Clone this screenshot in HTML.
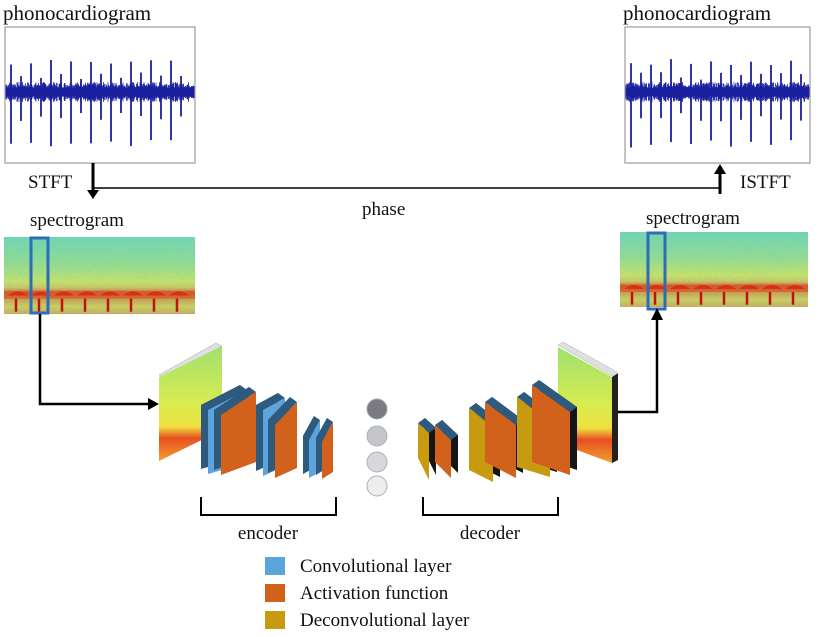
<!DOCTYPE html>
<html><head><meta charset="utf-8"><style>
body{margin:0;background:#fff;width:820px;height:637px;overflow:hidden}
svg{display:block}
text{font-family:"Liberation Serif",serif;fill:#111}
</style></head><body>
<svg id="s" width="820" height="637" viewBox="0 0 820 637" xmlns="http://www.w3.org/2000/svg">
<defs>
<linearGradient id="sg" x1="0" y1="0" x2="0" y2="1">
<stop offset="0" stop-color="#7ad8a0"/><stop offset="0.35" stop-color="#a8e070"/>
<stop offset="0.58" stop-color="#e8e840"/><stop offset="0.66" stop-color="#f2c030"/>
<stop offset="0.72" stop-color="#e85018"/><stop offset="0.8" stop-color="#f08a20"/>
<stop offset="0.9" stop-color="#f0d030"/><stop offset="1" stop-color="#f0a030"/>
</linearGradient>
<linearGradient id="sg2" x1="0" y1="0" x2="0" y2="1">
<stop offset="0" stop-color="#a0e070"/><stop offset="0.5" stop-color="#d8ec50"/>
<stop offset="0.7" stop-color="#f0e040"/><stop offset="0.8" stop-color="#e85020"/>
<stop offset="1" stop-color="#f0a030"/>
</linearGradient>
<filter id="nz"><feTurbulence baseFrequency="0.9" numOctaves="1" seed="3"/><feColorMatrix values="0 0 0 0 0.1  0 0 0 0 0.6  0 0 0 0 0.8  0 0 0 -2.2 1.1"/><feComposite in2="SourceGraphic" operator="in"/></filter>
</defs>

<text x="3" y="20" font-size="21">phonocardiogram</text>
<text x="623" y="20" font-size="21">phonocardiogram</text>
<rect x="5" y="27" width="190" height="136" fill="#fff" stroke="#888" stroke-width="1"/>
<rect x="625" y="27" width="185" height="136" fill="#fff" stroke="#888" stroke-width="1"/>
<g id="pcg1"></g><g id="pcg2"></g>

<text x="28" y="188" font-size="19">STFT</text>
<text x="740" y="188" font-size="19">ISTFT</text>
<text x="362" y="215" font-size="19">phase</text>
<line x1="93" y1="163" x2="93" y2="192" stroke="#000" stroke-width="3"/>
<polygon points="87,190 99,190 93,199" fill="#000"/>
<line x1="93" y1="188" x2="720" y2="188" stroke="#000" stroke-width="1.5"/>
<line x1="720" y1="194" x2="720" y2="172" stroke="#000" stroke-width="3"/>
<polygon points="714,174 726,174 720,164" fill="#000"/>

<text x="30" y="226" font-size="19">spectrogram</text>
<text x="646" y="224" font-size="19">spectrogram</text>
<rect x="4" y="237" width="191" height="77" fill="url(#sg)"/>
<rect x="4" y="237" width="191" height="77" fill="#fff" filter="url(#nz)" opacity="0.4"/>
<rect x="620" y="232" width="188" height="75" fill="url(#sg)"/>
<rect x="620" y="232" width="188" height="75" fill="#fff" filter="url(#nz)" opacity="0.4"/>
<g id="spk"></g>
<rect x="31" y="238" width="17" height="75" fill="none" stroke="#2f6cb8" stroke-width="3"/>
<rect x="648" y="233" width="17" height="76" fill="none" stroke="#2f6cb8" stroke-width="3"/>

<polyline points="40,314 40,404 150,404" fill="none" stroke="#000" stroke-width="2.5"/>
<polygon points="148,398 148,410 159,404" fill="#000"/>
<polyline points="617,412 657,412 657,318" fill="none" stroke="#000" stroke-width="2.5"/>
<polygon points="651,320 663,320 657,308" fill="#000"/>

<polygon points="159,375 216,343 222,346 165,378" fill="#e0e0e0" stroke="#aaa" stroke-width="0.5"/>
<polygon points="159,377 222,346 222,430 159,461" fill="url(#sg2)"/>
<polygon points="558,345 563,342 617,372 612,376" fill="#e0e0e0" stroke="#aaa" stroke-width="0.5"/>
<polygon points="612,377 618,373 618,460 612,463" fill="#222"/>
<polygon points="558,347 612,377 612,463 558,443" fill="url(#sg2)"/>

<g id="blocks"></g>

<circle cx="377" cy="409" r="10" fill="#7a7a80" stroke="#9aa" stroke-width="1"/>
<circle cx="377" cy="436" r="10" fill="#c6c6c8" stroke="#a8b0c0" stroke-width="1"/>
<circle cx="377" cy="462" r="10" fill="#d8d8da" stroke="#a8b0c0" stroke-width="1"/>
<circle cx="377" cy="486" r="10" fill="#ededee" stroke="#a8b0c0" stroke-width="1"/>

<polyline points="201,497 201,515 336,515 336,497" fill="none" stroke="#000" stroke-width="2"/>
<polyline points="423,497 423,515 558,515 558,497" fill="none" stroke="#000" stroke-width="2"/>
<text x="268" y="539" font-size="19" text-anchor="middle">encoder</text>
<text x="490" y="539" font-size="19" text-anchor="middle">decoder</text>

<rect x="265" y="557" width="20" height="18" fill="#5ba4dc"/>
<rect x="265" y="584" width="20" height="18" fill="#d2611c"/>
<rect x="265" y="611" width="20" height="18" fill="#c89a10"/>
<text x="300" y="572" font-size="19">Convolutional layer</text>
<text x="300" y="599" font-size="19">Activation function</text>
<text x="300" y="626" font-size="19">Deconvolutional layer</text>
</svg>
<script>
var NS="http://www.w3.org/2000/svg";
function el(p,t,a){var e=document.createElementNS(NS,t);for(var k in a)e.setAttribute(k,a[k]);p.appendChild(e);return e;}
var seed=7;function rnd(){seed=(seed*9301+49297)%233280;return seed/233280;}
function pcg(g,x0,x1){
  var d="";
  for(var x=x0;x<=x1;x+=0.5){var a=(4+rnd()*6);d+="M"+x.toFixed(1)+","+(92-a).toFixed(1)+" L"+x.toFixed(1)+","+(92+a).toFixed(1)+" ";}
  el(g,"path",{d:d,stroke:"#1a1f9e","stroke-width":"0.8",fill:"none"});
  var i=0;for(var x=x0+5;x<x1-3;x+=10,i++){
    var tall=i%2==0;var t=tall?58+rnd()*8:72+rnd()*8;var b=tall?140+rnd()*8:112+rnd()*10;
    el(g,"line",{x1:x,y1:t,x2:x,y2:b,stroke:"#1a1f9e","stroke-width":"1.8"});
  }
}
pcg(document.getElementById("pcg1"),6,194);
pcg(document.getElementById("pcg2"),626,809);
var spk=document.getElementById("spk");
[[4,195,237,77],[620,808,232,75]].forEach(function(r){
  el(spk,"rect",{x:r[0],y:r[2]+r[3]*0.7,width:r[1]-r[0],height:r[3]*0.1,fill:"#e04818",opacity:"0.6"});
  for(var x=r[0]+10;x<r[1]-12;x+=23){
    el(spk,"path",{d:"M"+(x-6)+","+(r[2]+r[3]*0.76)+" q10,-8 20,0 z",fill:"#d83010"});
    el(spk,"line",{x1:x+2,y1:r[2]+r[3]*0.8,x2:x+2,y2:r[2]+r[3]*0.97,stroke:"#c01010","stroke-width":"2.5"});
  }
});
var B=document.getElementById("blocks");
function slab(xl,xr,tl,tr,bl,br,col,dx,dy){
  var dk=dx<0?"#2e5a7e":"#151515";
  var pts=function(o,p){return (xl+o)+","+(tl+p)+" "+(xr+o)+","+(tr+p)+" "+(xr+o)+","+(br+p)+" "+(xl+o)+","+(bl+p);};
  el(B,"polygon",{points:pts(dx,dy),fill:dk});
  el(B,"polygon",{points:(xl+dx)+","+(tl+dy)+" "+(xr+dx)+","+(tr+dy)+" "+xr+","+tr+" "+xl+","+tl,fill:"#2e5a7e"});
  el(B,"polygon",{points:pts(0,0),fill:col});
}
var BL="#5ba4dc",OR="#d2611c",YE="#c89a10";
slab(208,247,410,390,474,463,BL,-7,-5);
slab(221,256,415,392,475,462,OR,-7,-5);
slab(263,285,410,398,476,466,BL,-7,-5);
slab(275,297,425,402,478,468,OR,-7,-5);
slab(309,320,440,420,478,472,BL,-6,-4);
slab(322,333,442,422,479,472,OR,-6,-4);
slab(418,429,423,433,458,480,YE,7,-5);
slab(435,451,425,440,462,478,OR,7,-5);
slab(469,493,408,427,470,482,YE,7,-5);
slab(485,516,402,425,462,478,OR,7,-5);
slab(517,550,397,422,467,477,YE,7,-5);
slab(532,570,385,412,462,475,OR,7,-5);
</script>
</body></html>
